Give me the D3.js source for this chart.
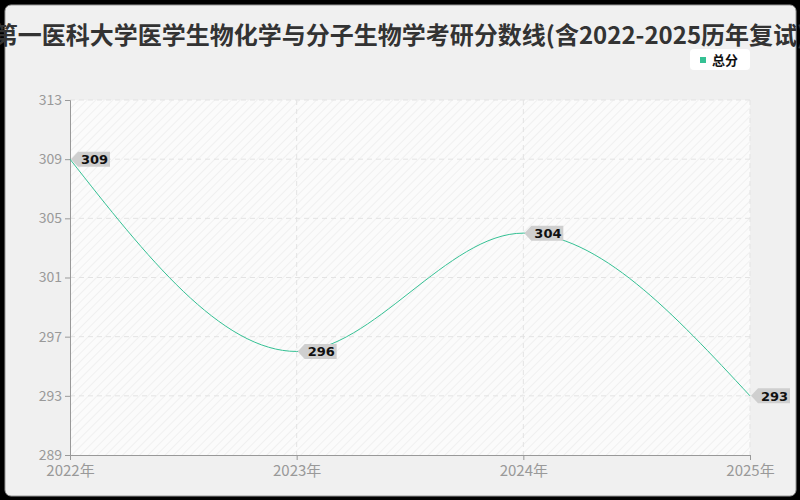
<!DOCTYPE html>
<html>
<head>
<meta charset="utf-8">
<script src="https://cdn.jsdelivr.net/npm/d3@7"></script>
<style>
  html, body { margin: 0; padding: 0; background: #000; }
  svg { display: block; font-family: "Noto Sans CJK SC", "Noto Sans", sans-serif; }
</style>
</head>
<body>
<div id="chart"></div>
<script>
var years = ["2022", "2023", "2024", "2025"];
var totalScores = [309, 296, 304, 293];
var yTicks = [289, 293, 297, 301, 305, 309, 313];
var titleText = "第一医科大学医学生物化学与分子生物学考研分数线(含2022-2025历年复试)";
var seriesName = "总分";

var width = 800, height = 500;
var margin = { top: 100, right: 50, bottom: 45, left: 70 };
var lineColor = "#35c194";

var svg = d3.select("#chart").append("svg")
    .attr("width", width)
    .attr("height", height);

var defs = svg.append("defs");
var pat = defs.append("pattern")
    .attr("id", "hatch")
    .attr("patternUnits", "userSpaceOnUse")
    .attr("width", 6)
    .attr("height", 6)
    .attr("patternTransform", "rotate(45)");
pat.append("rect").attr("width", 6).attr("height", 6).attr("fill", "#fbfbfb");
pat.append("line")
    .attr("x1", 0).attr("y1", 0).attr("x2", 0).attr("y2", 6)
    .attr("stroke", "#ededed").attr("stroke-width", 1.5);

// card background
svg.append("rect")
    .attr("x", 5).attr("y", 5)
    .attr("width", width - 9).attr("height", height - 9)
    .attr("rx", 6)
    .attr("fill", "#f0f0f0")
    .attr("stroke", "#999")
    .attr("stroke-width", 1);

var x = d3.scalePoint()
    .domain(years)
    .range([margin.left, width - margin.right]);

var y = d3.scaleLinear()
    .domain([289, 313])
    .range([height - margin.bottom, margin.top]);

// plot area
svg.append("rect")
    .attr("x", margin.left).attr("y", margin.top)
    .attr("width", width - margin.left - margin.right)
    .attr("height", height - margin.top - margin.bottom)
    .attr("fill", "url(#hatch)");

// grid
var grid = svg.append("g");
grid.selectAll("line.h")
    .data(yTicks.slice(1))
    .join("line")
    .attr("class", "h")
    .attr("x1", margin.left).attr("x2", width - margin.right)
    .attr("y1", d => y(d)).attr("y2", d => y(d))
    .attr("stroke", "#e3e3e3")
    .attr("stroke-dasharray", "5,4");
grid.selectAll("line.v")
    .data(years.slice(1))
    .join("line")
    .attr("class", "v")
    .attr("y1", margin.top).attr("y2", height - margin.bottom)
    .attr("x1", d => x(d)).attr("x2", d => x(d))
    .attr("stroke", "#e3e3e3")
    .attr("stroke-dasharray", "5,4");

// axes
var yAxis = svg.append("g")
    .attr("transform", `translate(${margin.left},0)`)
    .call(d3.axisLeft(y).tickValues(yTicks).tickSize(5).tickPadding(3));
var xAxis = svg.append("g")
    .attr("transform", `translate(0,${height - margin.bottom})`)
    .call(d3.axisBottom(x).tickSize(5).tickPadding(5).tickFormat(d => d + "年"));

[yAxis, xAxis].forEach(g => {
    g.select(".domain").attr("stroke", "#999");
    g.selectAll(".tick line").attr("stroke", "#999");
    g.selectAll(".tick text")
        .attr("fill", "#999")
        .style("font-size", "15px")
        .style("font-family", "\"Noto Sans CJK SC\", sans-serif");
});
yAxis.selectAll(".tick text").style("font-size", "14px");

// line
var pts = years.map((d, i) => ({ year: d, value: totalScores[i] }));
svg.append("path")
    .datum(pts)
    .attr("fill", "none")
    .attr("stroke", lineColor)
    .attr("stroke-width", 1)
    .attr("d", d3.line()
        .x(d => x(d.year))
        .y(d => y(d.value))
        .curve(d3.curveMonotoneX));

// value labels
var lab = svg.append("g").selectAll("g")
    .data(pts)
    .join("g")
    .attr("transform", d => `translate(${x(d.year)},${y(d.value)})`);
lab.append("path")
    .attr("d", "M1,0 L8,-7.5 L40,-7.5 L40,7.5 L8,7.5 Z")
    .attr("fill", "#cfcfcf");
lab.append("text")
    .attr("x", 11)
    .attr("y", 0)
    .attr("dy", "0.36em")
    .attr("fill", "#111")
    .style("font-family", "\"DejaVu Sans\", sans-serif")
    .style("font-size", "13px")
    .style("font-weight", "bold")
    .text(d => d.value);

// title
svg.append("text")
    .attr("x", width / 2)
    .attr("y", 44)
    .attr("text-anchor", "middle")
    .attr("fill", "#333")
    .style("font-size", "24px")
    .style("font-weight", "bold")
    .text(titleText);

// legend
var leg = svg.append("g").attr("transform", "translate(690,49)");
leg.append("rect")
    .attr("width", 60).attr("height", 21)
    .attr("rx", 4)
    .attr("fill", "#fff");
leg.append("rect")
    .attr("x", 10).attr("y", 8)
    .attr("width", 6).attr("height", 6)
    .attr("fill", lineColor);
leg.append("text")
    .attr("x", 22).attr("y", 11)
    .attr("dy", "0.35em")
    .attr("fill", "#111")
    .style("font-size", "13px")
    .style("font-weight", "bold")
    .text(seriesName);
</script>
</body>
</html>
